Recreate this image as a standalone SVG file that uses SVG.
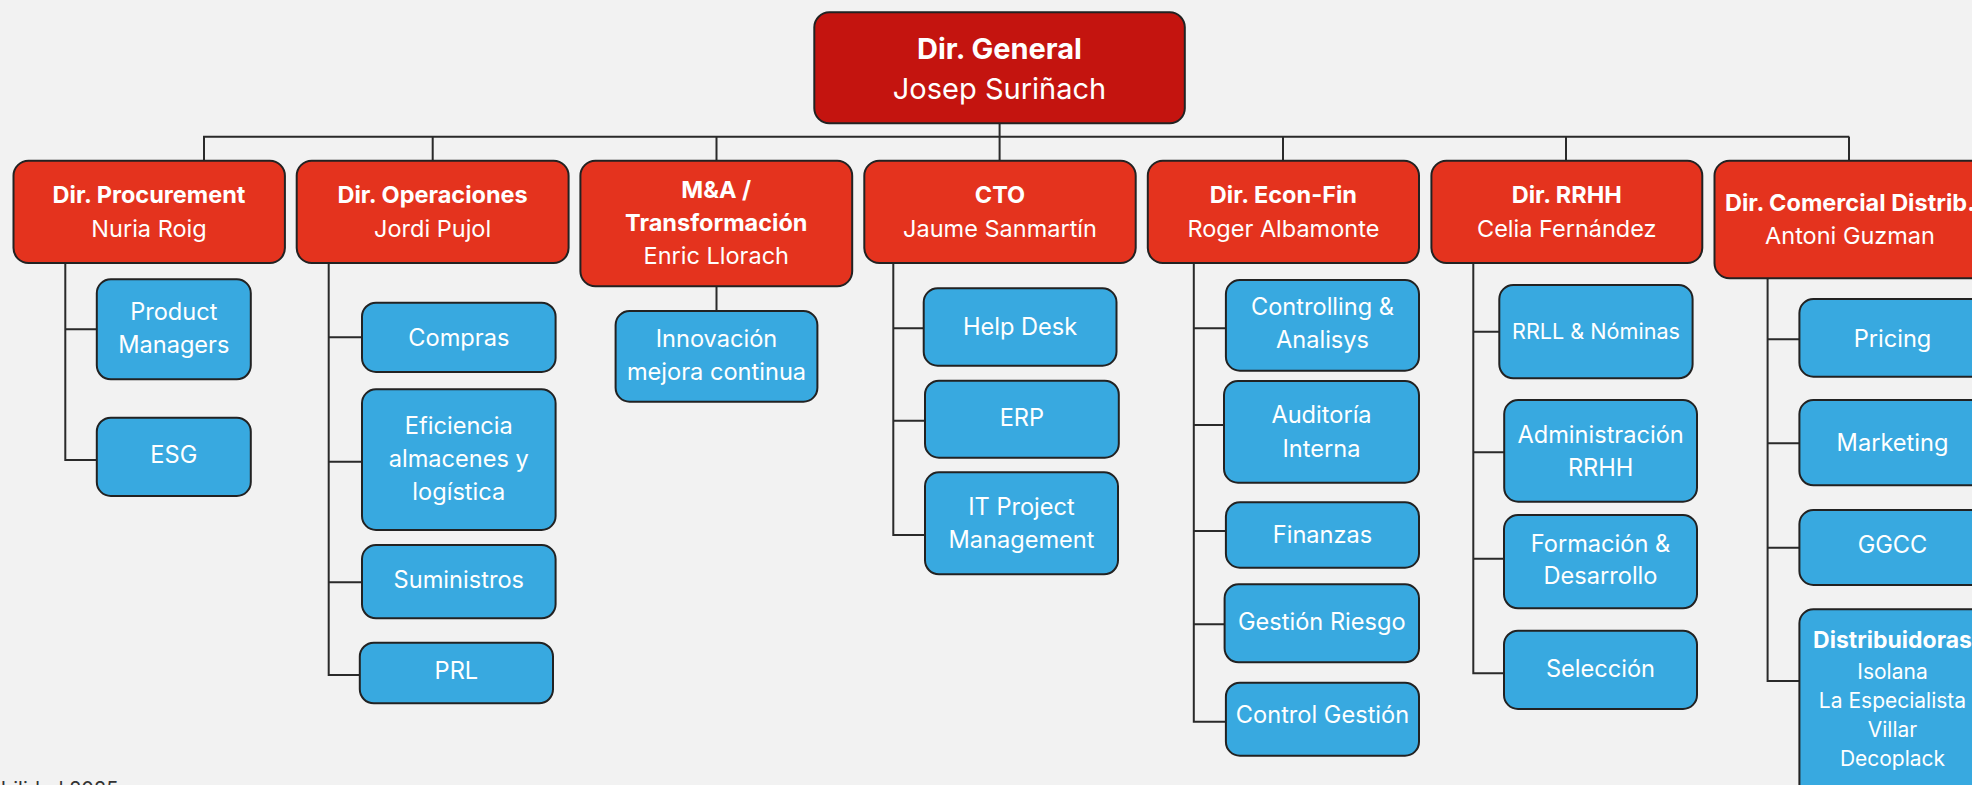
<svg xmlns="http://www.w3.org/2000/svg" width="1972" height="785" viewBox="0 0 1972 785">
<style>
.bg{fill:#F2F2F2}
.dg{fill:#C4140F;stroke:#222;stroke-width:2}
.hd{fill:#E4331E;stroke:#222;stroke-width:2}
.sb{fill:#38A9E0;stroke:#222;stroke-width:2}
.ln{stroke:#2A2A2A;stroke-width:2;fill:none}
text{font-family:Inter,"Noto Sans","Liberation Sans",sans-serif;fill:#FFFFFF;text-anchor:middle}
.t28{font-size:29px}
.t22{font-size:23.5px}
.t23{font-size:23.6px}
.t21{font-size:21px}
.t21b{font-size:23px;font-weight:700}
.rl{font-size:21.6px}
.b{font-weight:700}
.ft{fill:#333;text-anchor:start;font-size:20px}
</style>
<rect class="bg" x="0" y="0" width="1972" height="785"/>
<g id="connectors">
<path class="ln" d="M999.6 123.3V136.7M203 136.7H1849.3M204 136.7V160.7M432.7 136.7V160.7M716.5 136.7V160.7M999.6 136.7V160.7M1283 136.7V160.7M1566 136.7V160.7M1849 136.7V160.7"/>
<path class="ln" d="M65.3 263V460H96.8M65.3 329.3H96.8"/>
<path class="ln" d="M328.7 263V675H359.8M328.7 337.3H362M328.7 461.7H362M328.7 582.3H362"/>
<path class="ln" d="M716.5 286.3V311"/>
<path class="ln" d="M893.3 263V535H925M893.3 328.3H923.7M893.3 420.7H925"/>
<path class="ln" d="M1193.8 263V721.7H1225M1193.8 328.3H1225.9M1193.8 425H1224M1193.8 531H1225.9M1193.8 624.3H1224.6"/>
<path class="ln" d="M1473.3 263V673.3H1504M1473.3 331.7H1499.3M1473.3 452.3H1504.2M1473.3 558.7H1504"/>
<path class="ln" d="M1767.6 278.3V681H1799.4M1767.6 339.3H1799.4M1767.6 443.3H1799.4M1767.6 547.7H1799.4"/>
</g>
<g id="dir-general"><rect class="dg" x="814.3" y="12.3" width="370.5" height="111" rx="15"/><text class="t28 b" x="999.5" y="59.3">Dir. General</text><text class="t28" x="999.5" y="99">Josep Suriñach</text></g>
<g id="procurement"><rect class="hd" x="13.5" y="160.7" width="271.4" height="102.3" rx="15"/><text class="t22 b" x="149" y="203.3">Dir. Procurement</text><text class="t22" x="149" y="237.3">Nuria Roig</text></g>
<g id="operaciones"><rect class="hd" x="296.7" y="160.7" width="271.9" height="102.3" rx="15"/><text class="t22 b" x="432.6" y="203.3">Dir. Operaciones</text><text class="t22" x="432.6" y="237.3">Jordi Pujol</text></g>
<g id="ma"><rect class="hd" x="580.4" y="160.7" width="271.8" height="125.6" rx="15"/><text class="t22 b" x="716.3" y="198.3">M&amp;A /</text><text class="t22 b" x="716.3" y="231">Transformación</text><text class="t22" x="716.3" y="264">Enric Llorach</text></g>
<g id="cto"><rect class="hd" x="864.3" y="160.7" width="271.4" height="102.3" rx="15"/><text class="t22 b" x="1000" y="203.3">CTO</text><text class="t22" x="1000" y="237.3">Jaume Sanmartín</text></g>
<g id="econ-fin"><rect class="hd" x="1147.8" y="160.7" width="271.2" height="102.3" rx="15"/><text class="t22 b" x="1283.4" y="203.3">Dir. Econ-Fin</text><text class="t22" x="1283.4" y="237.3">Roger Albamonte</text></g>
<g id="rrhh"><rect class="hd" x="1431.4" y="160.7" width="270.9" height="102.3" rx="15"/><text class="t22 b" x="1566.8" y="203.3">Dir. RRHH</text><text class="t22" x="1566.8" y="237.3">Celia Fernández</text></g>
<g id="comercial"><rect class="hd" x="1714.5" y="160.7" width="271" height="117.6" rx="15"/><text class="t22 b" x="1850" y="210.7">Dir. Comercial Distrib.</text><text class="t22" x="1850" y="243.8">Antoni Guzman</text></g>
<g id="product-managers"><rect class="sb" x="96.8" y="279.3" width="154" height="100" rx="14"/><text class="t23" x="173.8" y="320">Product</text><text class="t23" x="173.8" y="352.7">Managers</text></g>
<g id="esg"><rect class="sb" x="96.8" y="417.7" width="154" height="78.3" rx="14"/><text class="t23" x="173.8" y="463.3">ESG</text></g>
<g id="compras"><rect class="sb" x="362" y="302.7" width="193.6" height="69.3" rx="14"/><text class="t23" x="458.8" y="346.2">Compras</text></g>
<g id="eficiencia"><rect class="sb" x="362" y="389.3" width="193.6" height="140.7" rx="14"/><text class="t23" x="458.8" y="433.5">Eficiencia</text><text class="t23" x="458.8" y="466.5">almacenes y</text><text class="t23" x="458.8" y="499.5">logística</text></g>
<g id="suministros"><rect class="sb" x="362" y="545" width="193.6" height="73.3" rx="14"/><text class="t23" x="458.8" y="588.3">Suministros</text></g>
<g id="prl"><rect class="sb" x="359.8" y="642.7" width="193.2" height="60.6" rx="14"/><text class="t23" x="456.4" y="679.3">PRL</text></g>
<g id="innovacion"><rect class="sb" x="615.6" y="311" width="201.8" height="90.7" rx="14"/><text class="t23" x="716.5" y="346.7">Innovación</text><text class="t23" x="716.5" y="380">mejora continua</text></g>
<g id="help-desk"><rect class="sb" x="923.7" y="288.3" width="192.8" height="77.4" rx="14"/><text class="t23" x="1020.1" y="335">Help Desk</text></g>
<g id="erp"><rect class="sb" x="925" y="380.7" width="193.8" height="77" rx="14"/><text class="t23" x="1021.9" y="425.7">ERP</text></g>
<g id="it-project"><rect class="sb" x="925" y="472.3" width="193" height="102" rx="14"/><text class="t23" x="1021.5" y="515">IT Project</text><text class="t23" x="1021.5" y="547.7">Management</text></g>
<g id="controlling"><rect class="sb" x="1225.9" y="280" width="193.1" height="90.7" rx="14"/><text class="t23" x="1322.5" y="315">Controlling &amp;</text><text class="t23" x="1322.5" y="348.3">Analisys</text></g>
<g id="auditoria"><rect class="sb" x="1224" y="381" width="195" height="101.7" rx="14"/><text class="t23" x="1321.5" y="423.3">Auditoría</text><text class="t23" x="1321.5" y="456.7">Interna</text></g>
<g id="finanzas"><rect class="sb" x="1225.9" y="502.3" width="193.1" height="65.4" rx="14"/><text class="t23" x="1322.5" y="543.3">Finanzas</text></g>
<g id="gestion-riesgo"><rect class="sb" x="1224.6" y="584.3" width="194.4" height="78" rx="14"/><text class="t23" x="1321.8" y="630">Gestión Riesgo</text></g>
<g id="control-gestion"><rect class="sb" x="1225.9" y="682.7" width="193.1" height="73" rx="14"/><text class="t23" x="1322.5" y="723.3">Control Gestión</text></g>
<g id="rrll"><rect class="sb" x="1499.3" y="285" width="193.3" height="93.3" rx="14"/><text class="rl" x="1596" y="339.3">RRLL &amp; Nóminas</text></g>
<g id="admin-rrhh"><rect class="sb" x="1504.2" y="400" width="192.8" height="101.7" rx="14"/><text class="t23" x="1600.6" y="443.3">Administración</text><text class="t23" x="1600.6" y="476">RRHH</text></g>
<g id="formacion"><rect class="sb" x="1504" y="515" width="193" height="93.3" rx="14"/><text class="t23" x="1600.5" y="551.7">Formación &amp;</text><text class="t23" x="1600.5" y="584">Desarrollo</text></g>
<g id="seleccion"><rect class="sb" x="1504" y="630.7" width="193" height="78.3" rx="14"/><text class="t23" x="1600.5" y="676.7">Selección</text></g>
<g id="pricing"><rect class="sb" x="1799.4" y="299" width="186.2" height="77.7" rx="14"/><text class="t23" x="1892.5" y="346.7">Pricing</text></g>
<g id="marketing"><rect class="sb" x="1799.4" y="400" width="186.2" height="85.3" rx="14"/><text class="t23" x="1892.5" y="451">Marketing</text></g>
<g id="ggcc"><rect class="sb" x="1799.4" y="510" width="186.2" height="75" rx="14"/><text class="t23" x="1892.5" y="553.3">GGCC</text></g>
<g id="distribuidoras"><rect class="sb" x="1799.4" y="609.3" width="186.2" height="200" rx="14"/><text class="t21b" x="1892.5" y="648.3">Distribuidoras</text><text class="t21" x="1892.5" y="679.3">Isolana</text><text class="t21" x="1892.5" y="708.3">La Especialista</text><text class="t21" x="1892.5" y="737.3">Villar</text><text class="t21" x="1892.5" y="766">Decoplack</text></g>
<text class="ft" x="1" y="796">bilidad 2025</text>
</svg>
